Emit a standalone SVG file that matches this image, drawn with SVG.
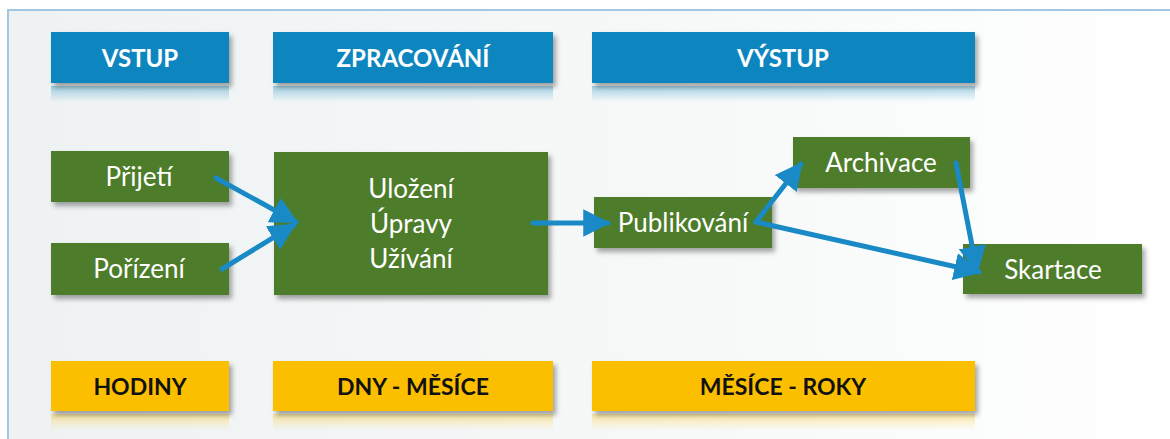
<svg xmlns="http://www.w3.org/2000/svg" width="1170" height="439" viewBox="0 0 1170 439">
<style>
.hdr{fill:#0986bf}
.tim{fill:#fcbf00}
.grn{fill:#4d7b2b}
.t{font-family:Lato,"Open Sans","Liberation Sans",sans-serif;text-anchor:middle;dominant-baseline:central}
.th{font-size:24px;font-weight:bold;fill:#ffffff}
.ty{font-size:23px;font-weight:bold;fill:#111111}
.tg{font-size:26px;fill:#ffffff}
.con{stroke:#1a8ac6;stroke-width:5;fill:none;stroke-linecap:round}
</style>
<defs>
<linearGradient id="bg" x1="0" y1="0" x2="1" y2="0">
<stop offset="0" stop-color="#eef2f2"/>
<stop offset="0.6" stop-color="#f7f9f9"/>
<stop offset="1" stop-color="#ffffff"/>
</linearGradient>
<linearGradient id="refB" x1="0" y1="0" x2="0" y2="1">
<stop offset="0" stop-color="#0986bf" stop-opacity="0.35"/>
<stop offset="1" stop-color="#0986bf" stop-opacity="0"/>
</linearGradient>
<linearGradient id="refY" x1="0" y1="0" x2="0" y2="1">
<stop offset="0" stop-color="#fcbf00" stop-opacity="0.35"/>
<stop offset="1" stop-color="#fcbf00" stop-opacity="0"/>
</linearGradient>
<filter id="sh" x="-10%" y="-20%" width="130%" height="160%">
<feDropShadow dx="3" dy="4" stdDeviation="2.5" flood-color="#000" flood-opacity="0.35"/>
</filter>
<marker id="ah" viewBox="0 0 10 10" refX="9" refY="5" markerWidth="5.5" markerHeight="5.5" orient="auto" markerUnits="strokeWidth">
<path d="M0,0 L10,5 L0,10 z" fill="#1a8ac6"/>
</marker>
</defs>
<rect x="8" y="10" width="1170" height="440" fill="url(#bg)" stroke="#a3c6e2" stroke-width="2"/>

<g id="vstup">
<rect x="51" y="86" width="178" height="16" fill="url(#refB)"/>
<rect class="hdr" x="51" y="32" width="178" height="51" filter="url(#sh)"/>
<text class="t th" x="140" y="57">VSTUP</text>
</g>
<g id="zpracovani">
<rect x="273" y="86" width="280" height="16" fill="url(#refB)"/>
<rect class="hdr" x="273" y="32" width="280" height="51" filter="url(#sh)"/>
<text class="t th" x="413" y="57">ZPRACOVÁNÍ</text>
</g>
<g id="vystup">
<rect x="592" y="86" width="383" height="16" fill="url(#refB)"/>
<rect class="hdr" x="592" y="32" width="383" height="51" filter="url(#sh)"/>
<text class="t th" x="783" y="57">VÝSTUP</text>
</g>

<g id="prijeti">
<rect class="grn" x="51" y="151" width="178" height="51" filter="url(#sh)"/>
<text class="t tg" x="139" y="176">Přijetí</text>
</g>
<g id="porizeni">
<rect class="grn" x="51" y="243" width="178" height="52" filter="url(#sh)"/>
<text class="t tg" x="139" y="268">Pořízení</text>
</g>
<g id="zpracovani-box">
<rect class="grn" x="274" y="152" width="274" height="143" filter="url(#sh)"/>
<text class="t tg" x="411" y="188">Uložení</text>
<text class="t tg" x="411" y="223">Úpravy</text>
<text class="t tg" x="411" y="258">Užívání</text>
</g>
<g id="publikovani">
<rect class="grn" x="594" y="197" width="178" height="51" filter="url(#sh)"/>
<text class="t tg" x="683" y="222">Publikování</text>
</g>
<g id="archivace">
<rect class="grn" x="793" y="137" width="177" height="51" filter="url(#sh)"/>
<text class="t tg" x="881" y="162">Archivace</text>
</g>
<g id="skartace">
<rect class="grn" x="963" y="244" width="179" height="50" filter="url(#sh)"/>
<text class="t tg" x="1053" y="269">Skartace</text>
</g>

<g id="hodiny">
<rect x="51" y="414" width="178" height="16" fill="url(#refY)"/>
<rect class="tim" x="51" y="361" width="178" height="50" filter="url(#sh)"/>
<text class="t ty" x="140" y="386">HODINY</text>
</g>
<g id="dny-mesice">
<rect x="273" y="414" width="280" height="16" fill="url(#refY)"/>
<rect class="tim" x="273" y="361" width="280" height="50" filter="url(#sh)"/>
<text class="t ty" x="413" y="386">DNY - MĚSÍCE</text>
</g>
<g id="mesice-roky">
<rect x="592" y="414" width="383" height="16" fill="url(#refY)"/>
<rect class="tim" x="592" y="361" width="383" height="50" filter="url(#sh)"/>
<text class="t ty" x="783" y="386">MĚSÍCE - ROKY</text>
</g>

<g id="connectors">
<line class="con" x1="216" y1="178" x2="296" y2="222" marker-end="url(#ah)"/>
<line class="con" x1="222" y1="269" x2="294" y2="225" marker-end="url(#ah)"/>
<line class="con" x1="533" y1="223" x2="608" y2="223" marker-end="url(#ah)"/>
<line class="con" x1="756" y1="222" x2="801" y2="164" marker-end="url(#ah)"/>
<line class="con" x1="756" y1="222" x2="979" y2="272" marker-end="url(#ah)"/>
<line class="con" x1="956" y1="163" x2="977" y2="271" marker-end="url(#ah)"/>
</g>
</svg>
